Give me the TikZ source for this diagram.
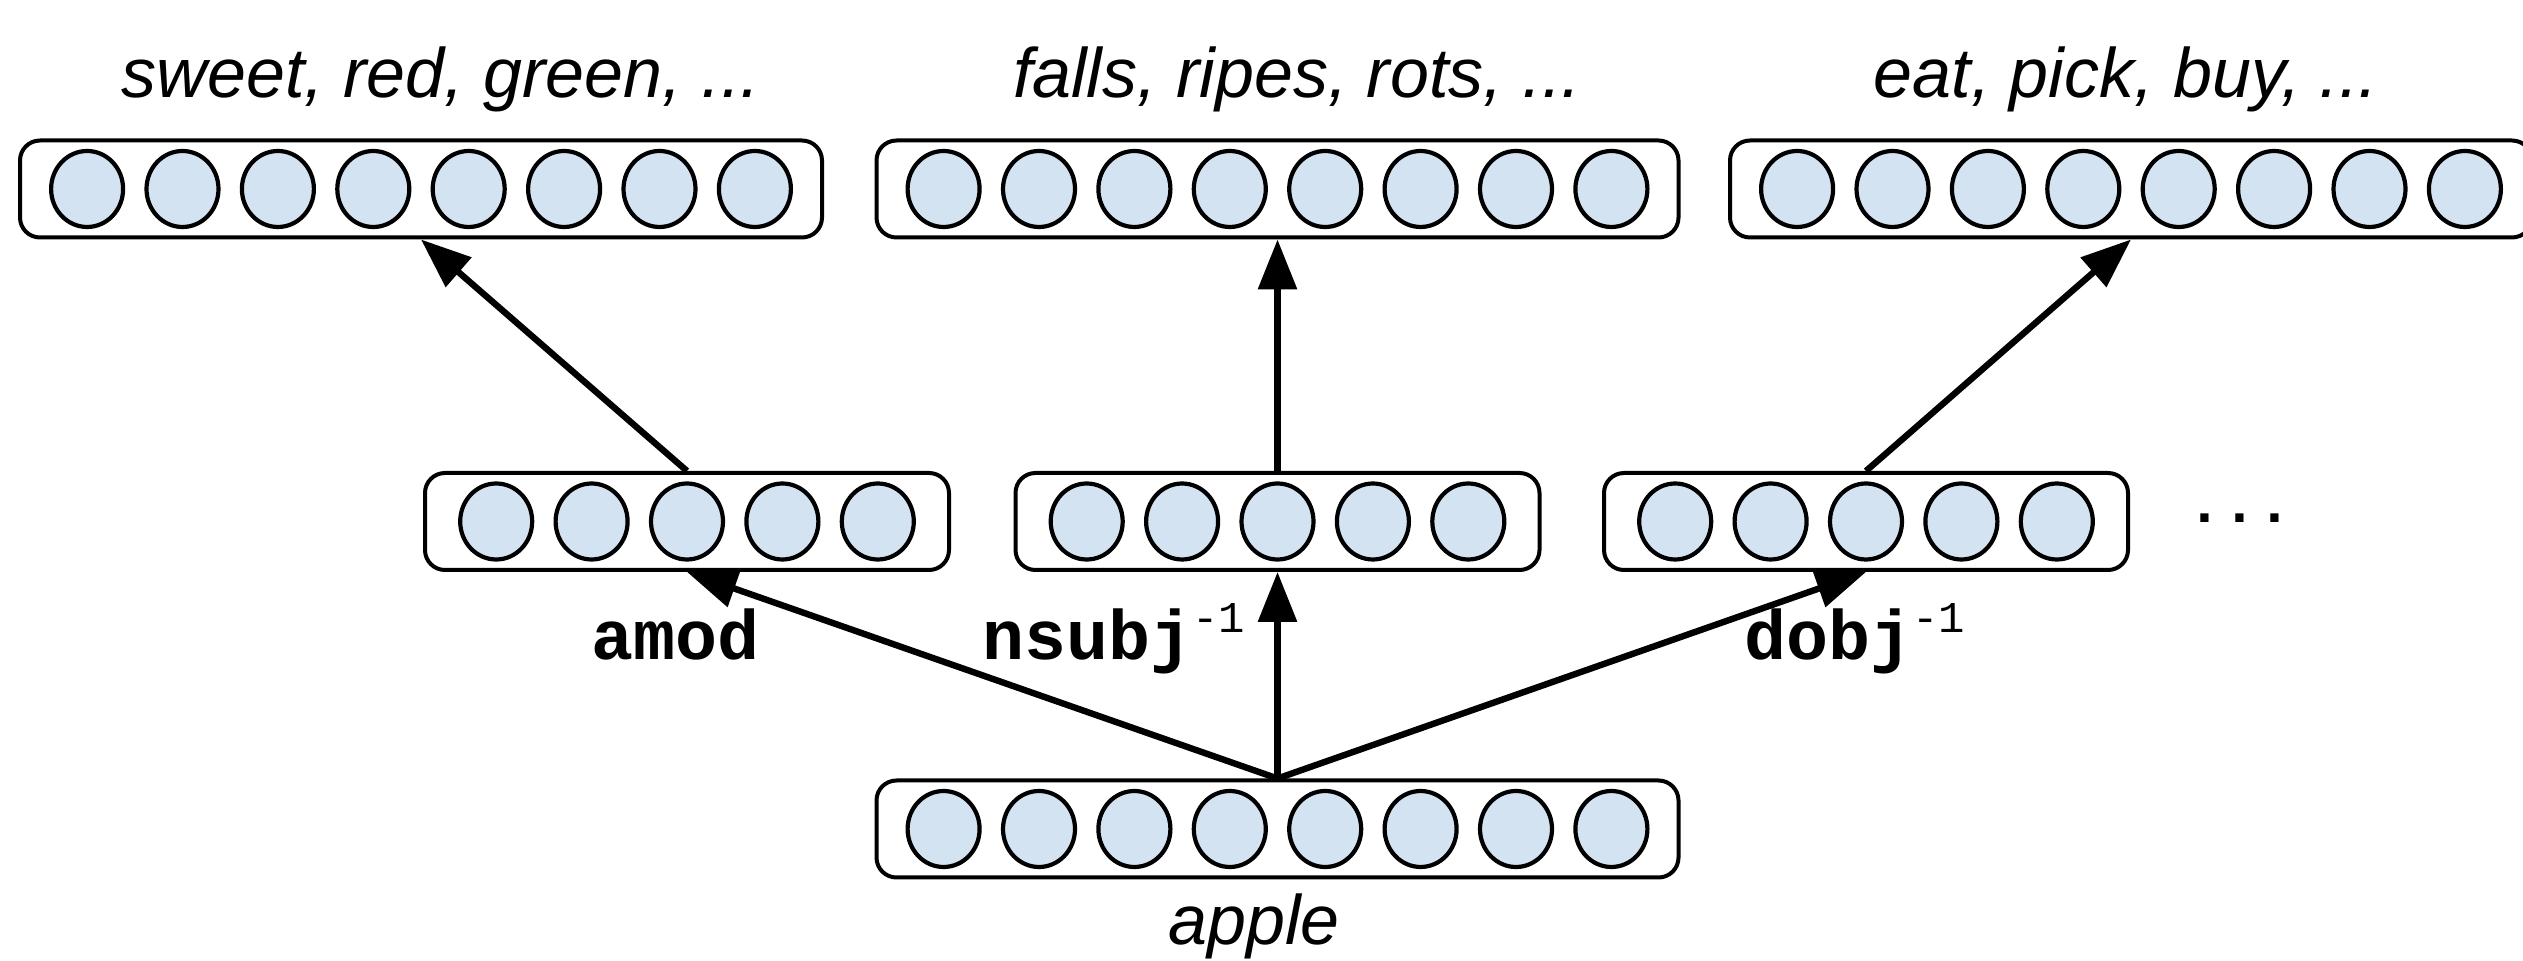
\documentclass[tikz,border=0pt]{standalone}
\usepackage{fontspec}
\setmainfont{Liberation Sans}
\newfontfamily\codefont{Liberation Mono}
\usetikzlibrary{arrows.meta,calc,shapes.geometric}
\definecolor{unitfill}{RGB}{212,227,242}
% superscript "-1" on a relation name
\newcommand{\relinv}{\raisebox{13.5pt}{\fontsize{22}{26}\selectfont\mdseries -1}}
\tikzset{
  vecbox/.style={draw, line width=2pt, rounded corners=10pt, fill=white,
                 minimum height=48.5pt, inner sep=0pt},
  widebox/.style={vecbox, minimum width=401pt},
  narrowbox/.style={vecbox, minimum width=262pt},
  unit/.style={ellipse, draw, line width=2.1pt, fill=unitfill,
               minimum width=36pt, minimum height=38pt, inner sep=0pt},
  conn/.style={line width=3.2pt, -{Triangle[length=25pt,width=19pt]}},
  wordlist/.style={font=\fontsize{35}{42}\selectfont\itshape, inner sep=0pt, anchor=base},
  relname/.style={font={\codefont\bfseries\fontsize{35}{42}\selectfont}, inner sep=0pt},
}
\begin{document}
\begin{tikzpicture}[x=0.5pt, y=-0.5pt]
  \useasboundingbox (0,0) rectangle (2523,961);
  \clip (0,0) rectangle (2523,961);

  % context vectors (top row)
  \node[widebox] (topL) at (421,189) {};
  \node[widebox] (topC) at (1277.5,189) {};
  \node[widebox] (topR) at (2131,189) {};
  % relation-specific projections (middle row)
  \node[narrowbox] (midL) at (687,521.5) {};
  \node[narrowbox] (midC) at (1277.5,521.5) {};
  \node[narrowbox] (midR) at (1866,521.5) {};
  % word vector (bottom)
  \node[widebox] (bot) at (1277.5,829) {};

  % units inside the vectors
  \foreach \b in {topL,topC,topR,bot}
    \foreach \i in {1,...,8}
      \node[unit] (\b-\i) at ($(\b.center)+({(\i-4.5)*95.4},0)$) {};
  \foreach \b in {midL,midC,midR}
    \foreach \i in {1,...,5}
      \node[unit] (\b-\i) at ($(\b.center)+({(\i-3)*95.4},0)$) {};

  % connectors
  \draw[conn] (bot.north) -- (midL.south);
  \draw[conn] (bot.north) -- (midC.south);
  \draw[conn] (bot.north) -- (midR.south);
  \draw[conn] (midL.north) -- (topL.south);
  \draw[conn] (midC.north) -- (topC.south);
  \draw[conn] (midR.north) -- (topR.south);

  % word lists
  \node[wordlist] (wl1) at (441,98) {sweet, red, green, ...};
  \node[wordlist] (wl2) at (1297,98) {falls, ripes, rots, ...};
  \node[wordlist] (wl3) at (2126,98) {eat, pick, buy, ...};
  \node[wordlist] (word) at (1254,944) {apple};

  % relation labels
  \node[relname, anchor=base] (r1) at (675.5,660) {amod};
  \node[relname, anchor=base west] (r2) at (982,660) {nsubj\relinv};
  \node[relname, anchor=base west] (r3) at (1744,660) {dobj\relinv};
  \node[font={\codefont\bfseries\fontsize{29}{35}\selectfont}, inner sep=0pt] (more) at (2240,518) {...};
\end{tikzpicture}
\end{document}
